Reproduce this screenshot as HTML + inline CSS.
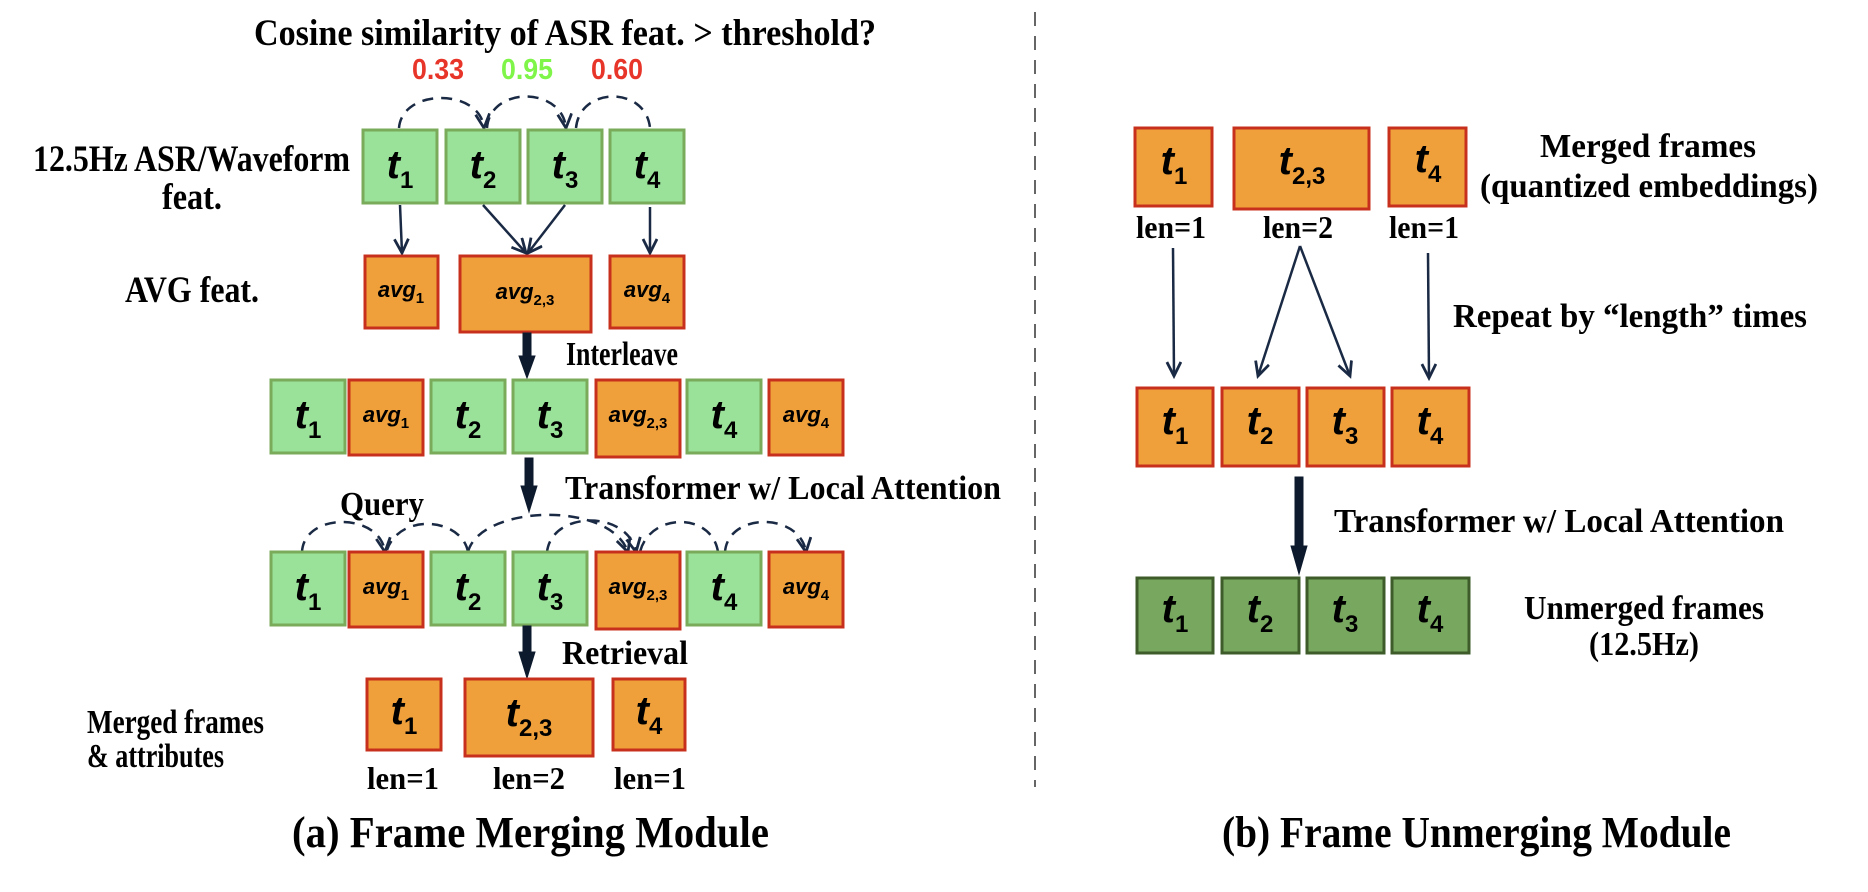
<!DOCTYPE html>
<html><head><meta charset="utf-8"><style>
html,body{margin:0;padding:0;background:#fff;}
svg{display:block;}
.s{font-family:"Liberation Serif",serif;font-weight:bold;fill:#000;}
.b{font-family:"Liberation Sans",sans-serif;font-weight:bold;fill:#000;}
.g{fill:#9ae29a;stroke:#7aab5a;stroke-width:3;}
.o{fill:#f0a03a;stroke:#c8301e;stroke-width:3;}
.d{fill:#78a860;stroke:#3d5c2a;stroke-width:3;}
.ln{stroke:#1a2a44;stroke-width:2.5;fill:none;}
.da{stroke:#1a2a44;stroke-width:2.5;fill:none;stroke-dasharray:11 8;}
</style></head><body>
<svg width="1868" height="892" viewBox="0 0 1868 892" xmlns="http://www.w3.org/2000/svg">
<defs>
<marker id="ar" markerWidth="20" markerHeight="20" refX="15" refY="8" orient="auto" markerUnits="userSpaceOnUse">
<path d="M1,1 L15,8 L1,15" fill="none" stroke="#1a2a44" stroke-width="2.8"/>
</marker>
</defs>

<!-- Title -->
<text class="s" x="254" y="45" font-size="37" textLength="622" lengthAdjust="spacingAndGlyphs">Cosine similarity of ASR feat. &gt; threshold?</text>
<text class="b" x="438" y="79" font-size="29" text-anchor="middle" style="fill:#e8352a" textLength="52" lengthAdjust="spacingAndGlyphs">0.33</text>
<text class="b" x="527" y="79" font-size="29" text-anchor="middle" style="fill:#7ef548" textLength="52" lengthAdjust="spacingAndGlyphs">0.95</text>
<text class="b" x="617" y="79" font-size="29" text-anchor="middle" style="fill:#e8352a" textLength="52" lengthAdjust="spacingAndGlyphs">0.60</text>

<!-- arcs row1 -->
<path class="da" d="M399,128 C402,88 480,88 484,128" marker-end="url(#ar)"/>
<path class="da" d="M487,128 C490,86 562,86 566,128" marker-end="url(#ar)"/>
<path class="da" d="M576,128 C580,86 646,86 650,128"/>

<!-- labels left -->
<text class="s" x="33" y="171" font-size="37" textLength="317" lengthAdjust="spacingAndGlyphs">12.5Hz ASR/Waveform</text>
<text class="s" x="192" y="209" font-size="37" text-anchor="middle" textLength="60" lengthAdjust="spacingAndGlyphs">feat.</text>
<text class="s" x="125" y="302" font-size="37" textLength="134" lengthAdjust="spacingAndGlyphs">AVG feat.</text>

<!-- row1 -->
<rect class="g" x="363" y="130" width="74" height="73"/>
<rect class="g" x="446" y="130" width="74" height="73"/>
<rect class="g" x="528" y="130" width="74" height="73"/>
<rect class="g" x="610" y="130" width="74" height="73"/>
<g class="b" font-size="40" text-anchor="middle">
<text x="400" y="178"><tspan font-style="italic">t</tspan><tspan font-size="24" dy="10">1</tspan></text>
<text x="483" y="178"><tspan font-style="italic">t</tspan><tspan font-size="24" dy="10">2</tspan></text>
<text x="565" y="178"><tspan font-style="italic">t</tspan><tspan font-size="24" dy="10">3</tspan></text>
<text x="647" y="178"><tspan font-style="italic">t</tspan><tspan font-size="24" dy="10">4</tspan></text>
</g>

<!-- arrows row1 -> avg -->
<path class="ln" d="M400,205 L402,253" marker-end="url(#ar)"/>
<path class="ln" d="M483,205 L526,253" marker-end="url(#ar)"/>
<path class="ln" d="M565,205 L528,253" marker-end="url(#ar)"/>
<path class="ln" d="M650,207 L650,253" marker-end="url(#ar)"/>

<!-- avg row -->
<rect class="o" x="365" y="256" width="73" height="72"/>
<rect class="o" x="460" y="256" width="131" height="76"/>
<rect class="o" x="610" y="256" width="74" height="72"/>
<g class="b" font-size="22" text-anchor="middle" font-style="italic">
<text x="401" y="297">avg<tspan font-size="15" dy="6" font-style="normal">1</tspan></text>
<text x="525" y="299">avg<tspan font-size="15" dy="6" font-style="normal">2,3</tspan></text>
<text x="647" y="297">avg<tspan font-size="15" dy="6" font-style="normal">4</tspan></text>
</g>

<!-- thick arrow 1 -->
<path d="M523,333 L531,333 L531,356 L535,356 L527,378 L519,356 L523,356 Z" fill="#0d1a2e" stroke="#0d1a2e" stroke-width="1"/>
<text class="s" x="566" y="365" font-size="34" textLength="112" lengthAdjust="spacingAndGlyphs">Interleave</text>

<!-- row3 -->
<g>
<rect class="g" x="271" y="380" width="74" height="73"/>
<rect class="o" x="349" y="380" width="74" height="75"/>
<rect class="g" x="431" y="380" width="74" height="73"/>
<rect class="g" x="513" y="380" width="74" height="73"/>
<rect class="o" x="596" y="380" width="84" height="77"/>
<rect class="g" x="687" y="380" width="74" height="73"/>
<rect class="o" x="769" y="380" width="74" height="75"/>
</g>
<g class="b" text-anchor="middle">
<text x="308" y="428" font-size="40"><tspan font-style="italic">t</tspan><tspan font-size="24" dy="10">1</tspan></text>
<text x="386" y="422" font-size="22" font-style="italic">avg<tspan font-size="15" dy="6" font-style="normal">1</tspan></text>
<text x="468" y="428" font-size="40"><tspan font-style="italic">t</tspan><tspan font-size="24" dy="10">2</tspan></text>
<text x="550" y="428" font-size="40"><tspan font-style="italic">t</tspan><tspan font-size="24" dy="10">3</tspan></text>
<text x="638" y="422" font-size="22" font-style="italic">avg<tspan font-size="15" dy="6" font-style="normal">2,3</tspan></text>
<text x="724" y="428" font-size="40"><tspan font-style="italic">t</tspan><tspan font-size="24" dy="10">4</tspan></text>
<text x="806" y="422" font-size="22" font-style="italic">avg<tspan font-size="15" dy="6" font-style="normal">4</tspan></text>
</g>

<!-- thick arrow 2 -->
<path d="M525,458 L533,458 L533,486 L537,486 L529,512 L521,486 L525,486 Z" fill="#0d1a2e" stroke="#0d1a2e" stroke-width="1"/>
<text class="s" x="565" y="499" font-size="34" textLength="436" lengthAdjust="spacingAndGlyphs">Transformer w/ Local Attention</text>
<text class="s" x="340" y="515" font-size="34" textLength="84" lengthAdjust="spacingAndGlyphs">Query</text>

<!-- arcs row4 -->
<path class="da" d="M302,552 C304,512 380,512 385,552" marker-end="url(#ar)"/>
<path class="da" d="M468,552 C462,518 400,512 387,550"/>
<path class="da" d="M468,552 C480,505 610,500 628,552" marker-end="url(#ar)"/>
<path class="da" d="M547,552 C552,510 628,510 636,552" marker-end="url(#ar)"/>
<path class="da" d="M718,552 C712,512 650,512 640,552"/>
<path class="da" d="M725,552 C728,512 800,512 806,552" marker-end="url(#ar)"/>

<!-- row4 -->
<g>
<rect class="g" x="271" y="552" width="74" height="73"/>
<rect class="o" x="349" y="552" width="74" height="75"/>
<rect class="g" x="431" y="552" width="74" height="73"/>
<rect class="g" x="513" y="552" width="74" height="73"/>
<rect class="o" x="596" y="552" width="84" height="77"/>
<rect class="g" x="687" y="552" width="74" height="73"/>
<rect class="o" x="769" y="552" width="74" height="75"/>
</g>
<g class="b" text-anchor="middle">
<text x="308" y="600" font-size="40"><tspan font-style="italic">t</tspan><tspan font-size="24" dy="10">1</tspan></text>
<text x="386" y="594" font-size="22" font-style="italic">avg<tspan font-size="15" dy="6" font-style="normal">1</tspan></text>
<text x="468" y="600" font-size="40"><tspan font-style="italic">t</tspan><tspan font-size="24" dy="10">2</tspan></text>
<text x="550" y="600" font-size="40"><tspan font-style="italic">t</tspan><tspan font-size="24" dy="10">3</tspan></text>
<text x="638" y="594" font-size="22" font-style="italic">avg<tspan font-size="15" dy="6" font-style="normal">2,3</tspan></text>
<text x="724" y="600" font-size="40"><tspan font-style="italic">t</tspan><tspan font-size="24" dy="10">4</tspan></text>
<text x="806" y="594" font-size="22" font-style="italic">avg<tspan font-size="15" dy="6" font-style="normal">4</tspan></text>
</g>

<!-- thick arrow 3 -->
<path d="M523,626 L531,626 L531,652 L535,652 L527,678 L519,652 L523,652 Z" fill="#0d1a2e" stroke="#0d1a2e" stroke-width="1"/>
<text class="s" x="562" y="664" font-size="34" textLength="126" lengthAdjust="spacingAndGlyphs">Retrieval</text>

<!-- row5 -->
<rect class="o" x="367" y="679" width="74" height="71"/>
<rect class="o" x="465" y="679" width="128" height="77"/>
<rect class="o" x="613" y="679" width="72" height="71"/>
<g class="b" font-size="40" text-anchor="middle">
<text x="404" y="724"><tspan font-style="italic">t</tspan><tspan font-size="24" dy="10">1</tspan></text>
<text x="529" y="726"><tspan font-style="italic">t</tspan><tspan font-size="24" dy="10">2,3</tspan></text>
<text x="649" y="724"><tspan font-style="italic">t</tspan><tspan font-size="24" dy="10">4</tspan></text>
</g>
<text class="s" x="87" y="733" font-size="34" textLength="177" lengthAdjust="spacingAndGlyphs">Merged frames</text>
<text class="s" x="87" y="767" font-size="34" textLength="137" lengthAdjust="spacingAndGlyphs">&amp; attributes</text>
<g class="s" font-size="32" text-anchor="middle">
<text x="403" y="789" textLength="72" lengthAdjust="spacingAndGlyphs">len=1</text>
<text x="529" y="789" textLength="72" lengthAdjust="spacingAndGlyphs">len=2</text>
<text x="650" y="789" textLength="72" lengthAdjust="spacingAndGlyphs">len=1</text>
</g>

<text class="s" x="292" y="847" font-size="44" textLength="477" lengthAdjust="spacingAndGlyphs">(a) Frame Merging Module</text>

<!-- divider -->
<line x1="1035" y1="12" x2="1035" y2="787" stroke="#666" stroke-width="2" stroke-dasharray="14 10"/>

<!-- RIGHT PANEL -->
<rect class="o" x="1135" y="128" width="77" height="78"/>
<rect class="o" x="1234" y="128" width="135" height="81"/>
<rect class="o" x="1389" y="128" width="77" height="78"/>
<g class="b" font-size="40" text-anchor="middle">
<text x="1174" y="174"><tspan font-style="italic">t</tspan><tspan font-size="24" dy="10">1</tspan></text>
<text x="1302" y="174"><tspan font-style="italic">t</tspan><tspan font-size="24" dy="10">2,3</tspan></text>
<text x="1428" y="172"><tspan font-style="italic">t</tspan><tspan font-size="24" dy="10">4</tspan></text>
</g>
<g class="s" font-size="32" text-anchor="middle">
<text x="1171" y="238" textLength="70" lengthAdjust="spacingAndGlyphs">len=1</text>
<text x="1298" y="238" textLength="70" lengthAdjust="spacingAndGlyphs">len=2</text>
<text x="1424" y="238" textLength="70" lengthAdjust="spacingAndGlyphs">len=1</text>
</g>
<text class="s" x="1648" y="157" font-size="34" text-anchor="middle" textLength="216" lengthAdjust="spacingAndGlyphs">Merged frames</text>
<text class="s" x="1480" y="197" font-size="34" textLength="338" lengthAdjust="spacingAndGlyphs">(quantized embeddings)</text>

<path class="ln" d="M1173,248 L1174,376" marker-end="url(#ar)"/>
<path class="ln" d="M1300,246 L1258,376" marker-end="url(#ar)"/>
<path class="ln" d="M1300,246 L1350,376" marker-end="url(#ar)"/>
<path class="ln" d="M1428,253 L1429,378" marker-end="url(#ar)"/>
<text class="s" x="1453" y="327" font-size="34" textLength="354" lengthAdjust="spacingAndGlyphs">Repeat by “length” times</text>

<rect class="o" x="1137" y="388" width="76" height="78"/>
<rect class="o" x="1222" y="388" width="77" height="78"/>
<rect class="o" x="1307" y="388" width="77" height="78"/>
<rect class="o" x="1392" y="388" width="77" height="78"/>
<g class="b" font-size="40" text-anchor="middle">
<text x="1175" y="434"><tspan font-style="italic">t</tspan><tspan font-size="24" dy="10">1</tspan></text>
<text x="1260" y="434"><tspan font-style="italic">t</tspan><tspan font-size="24" dy="10">2</tspan></text>
<text x="1345" y="434"><tspan font-style="italic">t</tspan><tspan font-size="24" dy="10">3</tspan></text>
<text x="1430" y="434"><tspan font-style="italic">t</tspan><tspan font-size="24" dy="10">4</tspan></text>
</g>

<path d="M1295,477 L1303,477 L1303,546 L1307,546 L1299,574 L1291,546 L1295,546 Z" fill="#0d1a2e" stroke="#0d1a2e" stroke-width="1"/>
<text class="s" x="1334" y="532" font-size="34" textLength="450" lengthAdjust="spacingAndGlyphs">Transformer w/ Local Attention</text>

<rect class="d" x="1137" y="578" width="76" height="75"/>
<rect class="d" x="1222" y="578" width="77" height="75"/>
<rect class="d" x="1307" y="578" width="77" height="75"/>
<rect class="d" x="1392" y="578" width="77" height="75"/>
<g class="b" font-size="40" text-anchor="middle">
<text x="1175" y="622"><tspan font-style="italic">t</tspan><tspan font-size="24" dy="10">1</tspan></text>
<text x="1260" y="622"><tspan font-style="italic">t</tspan><tspan font-size="24" dy="10">2</tspan></text>
<text x="1345" y="622"><tspan font-style="italic">t</tspan><tspan font-size="24" dy="10">3</tspan></text>
<text x="1430" y="622"><tspan font-style="italic">t</tspan><tspan font-size="24" dy="10">4</tspan></text>
</g>
<text class="s" x="1644" y="619" font-size="34" text-anchor="middle" textLength="240" lengthAdjust="spacingAndGlyphs">Unmerged frames</text>
<text class="s" x="1644" y="655" font-size="34" text-anchor="middle" textLength="110" lengthAdjust="spacingAndGlyphs">(12.5Hz)</text>

<text class="s" x="1222" y="847" font-size="44" textLength="509" lengthAdjust="spacingAndGlyphs">(b) Frame Unmerging Module</text>
</svg>
</body></html>
